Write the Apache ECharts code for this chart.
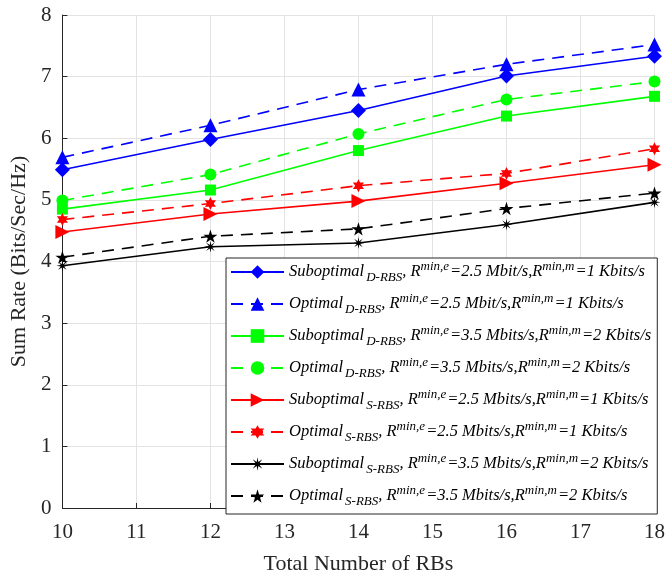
<!DOCTYPE html>
<html>
<head>
<meta charset="utf-8">
<script src="https://cdn.jsdelivr.net/npm/echarts@6/dist/echarts.min.js"></script>
<style>
html,body{margin:0;padding:0;background:#fff;}
#chart{width:668px;height:580px;}
</style>
</head>
<body>
<div id="chart"></div>
<script>
// ---- data ----
var xValues = [10, 12, 14, 16, 18];
var subD1 = [5.49, 5.98, 6.45, 7.01, 7.33];
var optD1 = [5.69, 6.21, 6.79, 7.20, 7.52];
var subD2 = [4.85, 5.16, 5.80, 6.36, 6.68];
var optD2 = [4.99, 5.41, 6.07, 6.63, 6.92];
var subS1 = [4.48, 4.77, 4.98, 5.27, 5.57];
var optS1 = [4.68, 4.94, 5.23, 5.43, 5.83];
var subS2 = [3.93, 4.24, 4.30, 4.60, 4.96];
var optS2 = [4.07, 4.41, 4.53, 4.86, 5.11];

var seriesNames = ['s1','s2','s3','s4','s5','s6','s7','s8'];
var legendMain = ['Suboptimal','Optimal','Suboptimal','Optimal','Suboptimal','Optimal','Suboptimal','Optimal'];
var legendSub = ['D-RBS','D-RBS','D-RBS','D-RBS','S-RBS','S-RBS','S-RBS','S-RBS'];
var legendRe = ['2.5 Mbit/s','2.5 Mbit/s','3.5 Mbits/s','3.5 Mbits/s','2.5 Mbits/s','2.5 Mbits/s','3.5 Mbits/s','3.5 Mbits/s'];
var legendRm = ['1 Kbits/s','1 Kbits/s','2 Kbits/s','2 Kbits/s','1 Kbits/s','1 Kbits/s','2 Kbits/s','2 Kbits/s'];
var xTicks = [10, 11, 12, 13, 14, 15, 16, 17, 18];
var yTicks = [0, 1, 2, 3, 4, 5, 6, 7, 8];

var FONT = '"Liberation Serif","Times New Roman",serif';

var STAR5 = 'path://M50,0 L61,35 L98,35 L68,57 L79,91 L50,70 L21,91 L32,57 L2,35 L39,35 Z';
var HEX6 = 'path://M50,0 L62,25 L93,25 L75,50 L93,75 L62,75 L50,100 L38,75 L7,75 L25,50 L7,25 L38,25 Z';
var AST8 = 'path://M50,0 L56,36 L85.4,14.6 L64,44 L100,50 L64,56 L85.4,85.4 L56,64 L50,100 L44,64 L14.6,85.4 L36,56 L0,50 L36,44 L14.6,14.6 L44,36 Z';

function pairs(arr){ return xValues.map(function(x,i){ return [x, arr[i]]; }); }

function mk(idx, arr, color, dashed, symbol, size, rotate){
  return {
    name: seriesNames[idx],
    type: 'line',
    data: pairs(arr),
    symbol: symbol,
    symbolSize: size,
    symbolRotate: rotate || 0,
    symbolKeepAspect: true,
    showAllSymbol: true,
    color: color,
    itemStyle: {color: color, borderWidth: 0},
    lineStyle: {color: color, width: 1.6, type: dashed ? [12, 8] : 'solid'},
    emphasis: {disabled: true},
    animation: false,
    z: 3
  };
}

var series = [
  mk(0, subD1, '#0000ff', false, 'diamond', 15),
  mk(1, optD1, '#0000ff', true, 'triangle', 14),
  mk(2, subD2, '#00ff00', false, 'rect', 11),
  mk(3, optD2, '#00ff00', true, 'circle', 12),
  mk(4, subS1, '#ff0000', false, 'triangle', 14, -90),
  mk(5, optS1, '#ff0000', true, HEX6, 13),
  mk(6, subS2, '#000000', false, AST8, 12),
  mk(7, optS2, '#000000', true, STAR5, 14)
];

var chart = echarts.init(document.getElementById('chart'), null, {renderer: 'canvas'});
chart.setOption({
  backgroundColor: '#ffffff',
  animation: false,
  grid: {left: 62, right: 12, top: 15, bottom: 66, containLabel: false},
  xAxis: {
    type: 'value', min: 10, max: 18, interval: 1,
    name: 'Total Number of RBs', nameLocation: 'middle', nameGap: 45,
    nameTextStyle: {fontFamily: FONT, fontSize: 22, color: '#262626'},
    axisLine: {show: true, lineStyle: {color: '#262626', width: 1}},
    axisTick: {show: true, inside: true, length: 5, lineStyle: {color: '#262626'}},
    axisLabel: {fontFamily: FONT, fontSize: 21, color: '#262626', margin: 14,
      formatter: function(v){ return xTicks.indexOf(v) >= 0 ? String(v) : ''; }},
    splitLine: {show: true, lineStyle: {color: '#e3e3e3', width: 1}}
  },
  yAxis: {
    type: 'value', min: 0, max: 8, interval: 1,
    name: 'Sum Rate (Bits/Sec/Hz)', nameLocation: 'middle', nameGap: 28,
    nameTextStyle: {fontFamily: FONT, fontSize: 22, color: '#262626'},
    axisLine: {show: true, lineStyle: {color: '#262626', width: 1}},
    axisTick: {show: true, inside: true, length: 5, lineStyle: {color: '#262626'}},
    axisLabel: {fontFamily: FONT, fontSize: 21, color: '#262626', margin: 11,
      formatter: function(v){ return yTicks.indexOf(v) >= 0 ? String(v) : ''; }},
    splitLine: {show: true, lineStyle: {color: '#e3e3e3', width: 1}}
  },
  legend: {
    orient: 'vertical',
    left: 226, top: 258,
    itemWidth: 53, itemHeight: 17, itemGap: 8,
    padding: [2, 6, 6, 4],
    backgroundColor: '#ffffff',
    borderColor: '#262626', borderWidth: 1, borderRadius: 0,
    selectedMode: false,
    data: seriesNames,
    formatter: function(name){
      var i = seriesNames.indexOf(name);
      return '{m|' + legendMain[i] + '}{s|' + legendSub[i] + '}{m|, R}{p|min,e}{m|=' + legendRe[i] + ',R}{p|min,m}{m|=' + legendRm[i] + '}';
    },
    textStyle: {
      color: '#000',
      lineHeight: 24,
      rich: {
        m: {fontFamily: FONT, fontStyle: 'italic', fontSize: 16.5, lineHeight: 24, color: '#000'},
        s: {fontFamily: FONT, fontStyle: 'italic', fontSize: 13, lineHeight: 24, padding: [11, 0, 0, 2], color: '#000'},
        p: {fontFamily: FONT, fontStyle: 'italic', fontSize: 13, lineHeight: 24, padding: [0, 1, 10, 0], color: '#000'}
      }
    }
  },
  series: series
});
</script>
</body>
</html>
